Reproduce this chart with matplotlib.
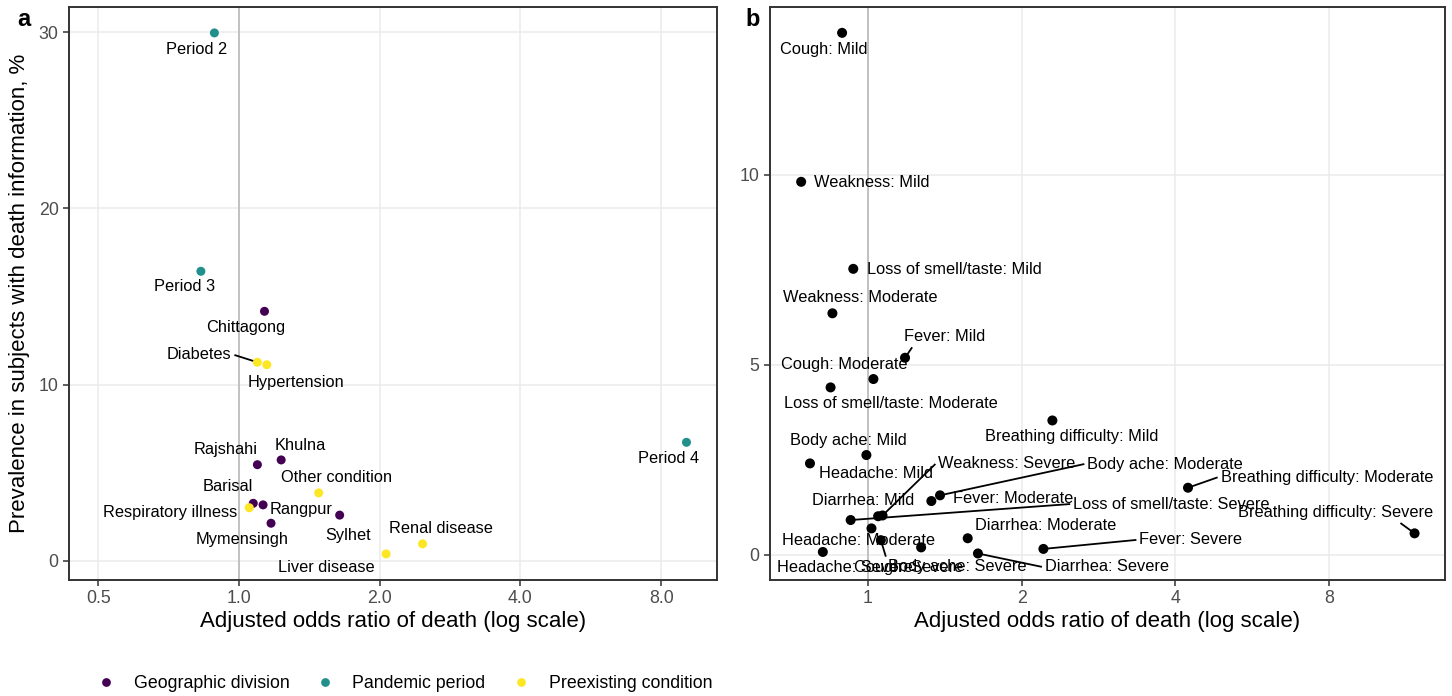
import matplotlib
matplotlib.use("Agg")
import matplotlib.pyplot as plt
from matplotlib.lines import Line2D
from matplotlib.ticker import FixedLocator, NullLocator, FixedFormatter

plt.rcParams['font.family'] = ['Liberation Sans', 'DejaVu Sans']

# ---------------- data: panel a ----------------
a_labels = ['Period 2', 'Period 3', 'Period 4', 'Chittagong', 'Diabetes', 'Hypertension',
            'Rajshahi', 'Khulna', 'Other condition', 'Barisal', 'Respiratory illness',
            'Rangpur', 'Mymensingh', 'Sylhet', 'Renal disease', 'Liver disease']
a_group = ['Pandemic period', 'Pandemic period', 'Pandemic period', 'Geographic division',
           'Preexisting condition', 'Preexisting condition', 'Geographic division',
           'Geographic division', 'Preexisting condition', 'Geographic division',
           'Preexisting condition', 'Geographic division', 'Geographic division',
           'Geographic division', 'Preexisting condition', 'Preexisting condition']
a_or = [0.886, 0.829, 9.06, 1.134, 1.095, 1.147, 1.095, 1.231, 1.481, 1.073, 1.052,
        1.126, 1.171, 1.642, 2.47, 2.064]
a_prev = [29.95, 16.43, 6.73, 14.16, 11.27, 11.13, 5.46, 5.73, 3.86, 3.27, 3.02,
          3.18, 2.14, 2.60, 0.97, 0.40]
a_xticks = [0.5, 1.0, 2.0, 4.0, 8.0]
a_xticklabels = ['0.5', '1.0', '2.0', '4.0', '8.0']
a_yticks = [0, 10, 20, 30]

groups = ['Geographic division', 'Pandemic period', 'Preexisting condition']
group_colors = {'Geographic division': '#440154', 'Pandemic period': '#21908C',
                'Preexisting condition': '#FDE725'}

# ---------------- data: panel b ----------------
b_labels = ['Cough: Mild', 'Weakness: Mild', 'Loss of smell/taste: Mild', 'Weakness: Moderate',
            'Fever: Mild', 'Cough: Moderate', 'Loss of smell/taste: Moderate',
            'Breathing difficulty: Mild', 'Body ache: Mild', 'Headache: Mild',
            'Breathing difficulty: Moderate', 'Body ache: Moderate', 'Fever: Moderate',
            'Weakness: Severe', 'Diarrhea: Mild', 'Loss of smell/taste: Severe',
            'Headache: Moderate', 'Cough: Severe', 'Body ache: Severe', 'Diarrhea: Moderate',
            'Diarrhea: Severe', 'Fever: Severe', 'Headache: Severe', 'Breathing difficulty: Severe']
b_or = [0.890, 0.740, 0.936, 0.852, 1.182, 1.025, 0.845, 2.297, 0.993, 0.770, 4.234, 1.384,
        1.331, 1.068, 1.047, 0.925, 1.016, 1.060, 1.271, 1.568, 1.642, 2.206, 0.816, 11.76]
b_prev = [13.74, 9.82, 7.53, 6.36, 5.19, 4.63, 4.41, 3.54, 2.63, 2.41, 1.77, 1.57, 1.42,
          1.04, 1.02, 0.92, 0.70, 0.39, 0.20, 0.44, 0.04, 0.16, 0.08, 0.57]
b_xticks = [1, 2, 4, 8]
b_xticklabels = ['1', '2', '4', '8']
b_yticks = [0, 5, 10]

# ---------------- label placement (pixel offsets, like ggrepel result) ----------------
a_offsets = [(-17.4, 16.3), (-16.7, 15.4), (-18.1, 16), (-18.4, 16.6), (-58.3, -7.3),
             (29.5, 17.6), (-31.6, -14.7), (18.6, -14.3), (17.9, -15.3), (-25.5, -17.3),
             (-79, 5), (38.1, 5), (-28.6, 16), (8.8, 20), (18.1, -15.4), (-60, 13.3)]
a_segment = {'Diabetes'}

b_offsets = [(-18.8, 16.3), (70.4, 0.7), (101, 0.6), (27.4, -15.6), (39.7, -21),
             (-29.6, -15), (59.9, 16), (18.9, 16.4), (-17.9, -15), (65.7, 10),
             (138.8, -10.4), (225.2, -31.3), (82.2, -2.2), (124.5, -51.5), (-14.9, -15.3),
             (320.8, -16), (-13.4, 11.7), (27.7, 27), (35.8, 19.5), (78.4, -12.5),
             (129, 13.4), (147.5, -9), (22.2, 15.3), (-78.5, -20.8)]
b_segment = {'Fever: Mild', 'Breathing difficulty: Moderate', 'Body ache: Moderate',
             'Weakness: Severe', 'Loss of smell/taste: Severe', 'Cough: Severe',
             'Diarrhea: Severe', 'Fever: Severe', 'Breathing difficulty: Severe'}

W, H = 1452, 696
fig = plt.figure(figsize=(W / 100, H / 100), dpi=100)
fig.patch.set_facecolor('white')

border_c = '#333333'
grid_c = '#EBEBEB'
tick_text_c = '#4D4D4D'


def style_axes(ax, xticks, xticklabels, yticks, xlim, ylim):
    ax.set_xscale('log', base=2)
    ax.set_xlim(*xlim)
    ax.set_ylim(*ylim)
    ax.xaxis.set_major_locator(FixedLocator(xticks))
    ax.xaxis.set_major_formatter(FixedFormatter(xticklabels))
    ax.xaxis.set_minor_locator(NullLocator())
    ax.yaxis.set_major_locator(FixedLocator(yticks))
    ax.yaxis.set_minor_locator(NullLocator())
    ax.grid(True, which='major', color=grid_c, linewidth=1.1, zorder=0)
    ax.set_axisbelow(True)
    for s in ax.spines.values():
        s.set_color(border_c)
        s.set_linewidth(1.4)
    ax.tick_params(axis='both', which='major', length=4, width=1.1, color=border_c,
                   labelcolor=tick_text_c, labelsize=12.8, pad=3.5)
    ax.axvline(1.0, color='#BEBEBE', linewidth=1.3, zorder=1)


def place_labels(ax, labels, xs, ys, offsets):
    anns = []
    for lab, x, y, (dx, dy) in zip(labels, xs, ys, offsets):
        t = ax.annotate(lab, xy=(x, y), xytext=(dx, -dy), textcoords='offset pixels',
                        ha='center', va='center', fontsize=11.8, color='black',
                        annotation_clip=False, zorder=5)
        anns.append(t)
    return anns


def add_segments(ax, anns, labels, xs, ys, seg_set):
    fig.canvas.draw()
    r = fig.canvas.get_renderer()
    inv = ax.transData.inverted()
    for ann, lab, x, y in zip(anns, labels, xs, ys):
        if lab not in seg_set:
            continue
        bb = ann.get_window_extent(r)
        px, py = ax.transData.transform((x, y))
        pad = 3
        x0, x1, y0, y1 = bb.x0 - pad, bb.x1 + pad, bb.y0 - pad, bb.y1 + pad
        cx, cy = (x0 + x1) / 2, (y0 + y1) / 2
        if px < x0:
            ex, ey = x0, cy
        elif px > x1:
            ex, ey = x1, cy
        else:
            ex = px + 0.18 * (cx - px)
            ey = y0 if py < y0 else y1
        (dx0, dy0), (dx1, dy1) = inv.transform([(px, py), (ex, ey)])
        ax.plot([dx0, dx1], [dy0, dy1], color='black', linewidth=1.3, zorder=2.5,
                clip_on=False, solid_capstyle='butt')


# ---------------- panel a ----------------
ax1 = fig.add_axes([69 / W, (H - 580) / H, (717 - 69) / W, (580 - 7) / H])
style_axes(ax1, a_xticks, a_xticklabels, a_yticks, (0.433, 10.53), (-1.08, 31.42))
for g in groups:
    xs = [x for x, gg in zip(a_or, a_group) if gg == g]
    ys = [y for y, gg in zip(a_prev, a_group) if gg == g]
    ax1.scatter(xs, ys, s=42, color=group_colors[g], edgecolors='none', zorder=3)
anns_a = place_labels(ax1, a_labels, a_or, a_prev, a_offsets)

# ---------------- panel b ----------------
ax2 = fig.add_axes([770 / W, (H - 580) / H, (1445 - 770) / W, (580 - 7) / H])
style_axes(ax2, b_xticks, b_xticklabels, b_yticks, (0.643, 13.49), (-0.658, 14.42))
ax2.scatter(b_or, b_prev, s=52, color='black', edgecolors='none', zorder=3)
anns_b = place_labels(ax2, b_labels, b_or, b_prev, b_offsets)

add_segments(ax1, anns_a, a_labels, a_or, a_prev, a_segment)
add_segments(ax2, anns_b, b_labels, b_or, b_prev, b_segment)

# ---------------- titles ----------------
xt = 'Adjusted odds ratio of death (log scale)'
fig.text((69 + 717) / 2 / W, 1 - 622 / H, xt, ha='center', va='center', fontsize=16)
fig.text((770 + 1445) / 2 / W, 1 - 622 / H, xt, ha='center', va='center', fontsize=16)
fig.text(20 / W, 1 - 293 / H, 'Prevalence in subjects with death information, %',
         rotation=90, ha='center', va='center', fontsize=16)
fig.text(24 / W, 1 - 20 / H, 'a', ha='center', va='center', fontsize=17, fontweight='bold')
fig.text(753 / W, 1 - 20 / H, 'b', ha='center', va='center', fontsize=17, fontweight='bold')

# ---------------- legend ----------------
handles = [Line2D([0], [0], marker='o', linestyle='none', markersize=6.3,
                  markerfacecolor=group_colors[g], markeredgecolor='none') for g in groups]
fig.legend(handles, groups, loc='center left', bbox_to_anchor=(97 / W, 1 - 684 / H),
           ncol=3, frameon=False, fontsize=12.8, handlelength=1.0, handletextpad=1.07,
           columnspacing=1.47, borderpad=0, borderaxespad=0)

fig.savefig('out.png', dpi=100, facecolor='white')
